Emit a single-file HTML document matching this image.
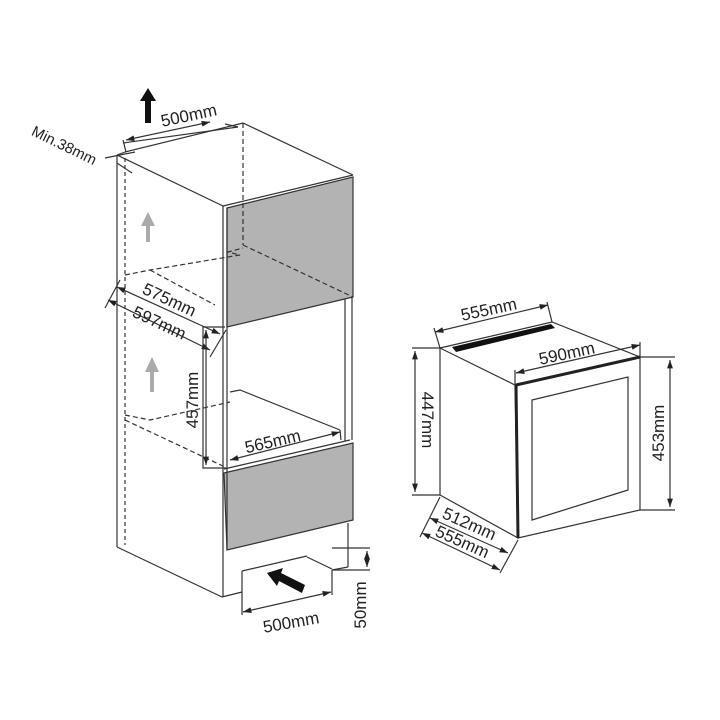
<!DOCTYPE html>
<html><head><meta charset="utf-8"><style>
html,body{margin:0;padding:0;background:#fff}
svg{display:block}
text{font-family:"Liberation Sans",Arial,sans-serif;fill:#222}
</style></head><body>
<svg width="720" height="720" viewBox="0 0 720 720" xmlns="http://www.w3.org/2000/svg">
<defs>
<marker id="a" viewBox="0 0 10 10" refX="10" refY="5" markerWidth="7" markerHeight="7" orient="auto-start-reverse"><path d="M0,1.5 L10,5 L0,8.5 z" fill="#222"/></marker>
</defs>
<g stroke="#333" stroke-width="1.2" fill="none">
<polygon points="227,208 353,177 353,297 227,327" fill="#b3b3b3"/>
<line x1="223" y1="206" x2="353" y2="175"/>
<polygon points="224,473 353,443 353,520 227,550" fill="#b3b3b3"/>
<line x1="224" y1="469" x2="350" y2="440"/>
<polyline points="117,155 223,206"/>
<polyline points="125,152 243,123 353,175"/>
<line x1="117" y1="155" x2="125" y2="152"/>
<line x1="117" y1="155" x2="117" y2="547"/>
<line x1="125" y1="158" x2="125" y2="545" stroke-dasharray="4,3"/>
<line x1="117" y1="547" x2="222" y2="597"/>
<line x1="223" y1="206" x2="223" y2="597"/>
<line x1="227" y1="208" x2="227" y2="550"/>
<line x1="345" y1="299" x2="345" y2="441"/>
<line x1="352" y1="297" x2="352" y2="440"/>
<line x1="222" y1="597" x2="242" y2="592"/>
<line x1="348" y1="523" x2="348" y2="567"/>
<line x1="348" y1="567" x2="332" y2="570"/>
<line x1="307" y1="557" x2="332" y2="569"/>
<line x1="242" y1="571" x2="307" y2="556"/>
<g stroke-dasharray="5,3">
<line x1="243" y1="123" x2="243" y2="245"/>
<line x1="243" y1="245" x2="353" y2="297"/>
<polyline points="125,275 150,270 240,255 228,252 243,248"/>
<line x1="150" y1="270" x2="215" y2="305"/>
<polyline points="125,415 150,420 230,402"/>
<line x1="125" y1="420" x2="225" y2="467"/>
</g>
<polyline points="230,392 240,390 340,430"/>
<polyline points="123,143 238,127"/>
<line x1="126" y1="152" x2="123" y2="140"/>
<line x1="238" y1="127" x2="225" y2="124"/>
<line x1="126" y1="140" x2="210" y2="122" marker-start="url(#a)" marker-end="url(#a)"/>
<line x1="105" y1="158" x2="135" y2="152"/>
<line x1="117" y1="163" x2="132" y2="173"/>
<line x1="117" y1="287" x2="220" y2="334" marker-start="url(#a)" marker-end="url(#a)"/>
<line x1="108" y1="300" x2="210" y2="350" marker-start="url(#a)" marker-end="url(#a)"/>
<line x1="120" y1="280" x2="105" y2="308"/>
<line x1="226" y1="330" x2="210" y2="357"/>
<polyline points="225,327 203,327 203,468 226,468"/>
<line x1="206" y1="330" x2="206" y2="465" marker-start="url(#a)" marker-end="url(#a)"/>
<line x1="230" y1="460" x2="340" y2="432" marker-start="url(#a)" marker-end="url(#a)"/>
<line x1="340" y1="430" x2="341" y2="440"/>
<line x1="242" y1="571" x2="242" y2="615"/>
<line x1="332" y1="570" x2="332" y2="595"/>
<line x1="243" y1="612" x2="331" y2="592" marker-start="url(#a)" marker-end="url(#a)"/>
<polyline points="332,548 370,548"/>
<line x1="332" y1="570" x2="370" y2="570"/>
<line x1="367" y1="551" x2="367" y2="567" marker-start="url(#a)" marker-end="url(#a)"/>
</g>
<path d="M145,123 V101 H140 L148,88 L156,101 H151 V123 Z" fill="#111"/>
<path d="M146,242 V226 H141 L148,212 L155,226 H150 V242 Z" fill="#aaa"/>
<path d="M150,392 V372 H145 L152,357 L159,372 H154 V392 Z" fill="#aaa"/>
<path d="M305,585 L281,573 L283,568 L267,573 L277,586 L279,581 L302,593 Z" fill="#111"/>
<text x="190" y="121" font-size="17" transform="rotate(-12 190 121)" text-anchor="middle">500mm</text>
<text x="62" y="150" font-size="15" transform="rotate(26 62 150)" text-anchor="middle">Min.38mm</text>
<text x="167" y="305" font-size="17" transform="rotate(25 167 305)" text-anchor="middle">575mm</text>
<text x="157" y="328" font-size="17" transform="rotate(25 157 328)" text-anchor="middle">597mm</text>
<text x="198" y="400" font-size="17" transform="rotate(-90 198 400)" text-anchor="middle">457mm</text>
<text x="274" y="447" font-size="17" transform="rotate(-13 274 447)" text-anchor="middle">565mm</text>
<text x="292" y="628" font-size="17" transform="rotate(-10 292 628)" text-anchor="middle">500mm</text>
<text x="366" y="605" font-size="17" transform="rotate(-90 366 605)" text-anchor="middle">50mm</text>
<g stroke="#333" stroke-width="1.2" fill="none">
<polygon points="440,348 552,322 640,357 515,385"/>
<line x1="440" y1="348" x2="440" y2="495"/>
<line x1="440" y1="495" x2="518" y2="538"/>
<polygon points="515,385 640,357 640,510 518,538"/>
<polygon points="532,400 628,377 628,490 532,520"/>
<line x1="440" y1="348" x2="412" y2="348"/>
<line x1="440" y1="495" x2="412" y2="495"/>
<line x1="415" y1="351" x2="415" y2="492" marker-start="url(#a)" marker-end="url(#a)"/>
<line x1="640" y1="357" x2="675" y2="357"/>
<line x1="640" y1="510" x2="675" y2="510"/>
<line x1="670" y1="360" x2="670" y2="507" marker-start="url(#a)" marker-end="url(#a)"/>
<line x1="435" y1="332" x2="548" y2="305" marker-start="url(#a)" marker-end="url(#a)"/>
<line x1="440" y1="348" x2="434" y2="328"/>
<line x1="552" y1="322" x2="547" y2="302"/>
<line x1="516" y1="373" x2="640" y2="345" marker-start="url(#a)" marker-end="url(#a)"/>
<line x1="515" y1="385" x2="515" y2="370"/>
<line x1="640" y1="357" x2="640" y2="342"/>
<line x1="430" y1="518" x2="508" y2="553" marker-start="url(#a)" marker-end="url(#a)"/>
<line x1="422" y1="533" x2="500" y2="570" marker-start="url(#a)" marker-end="url(#a)"/>
<line x1="440" y1="497" x2="420" y2="537"/>
<line x1="518" y1="540" x2="500" y2="573"/>
</g>
<line x1="516" y1="385" x2="640" y2="357" stroke="#222" stroke-width="3"/>
<line x1="516" y1="385" x2="518" y2="538" stroke="#222" stroke-width="3"/>
<polygon points="452,347 551,324 555,328 456,352" fill="#111"/>
<text x="490" y="315" font-size="17" transform="rotate(-12 490 315)" text-anchor="middle">555mm</text>
<text x="568" y="359" font-size="17" transform="rotate(-12 568 359)" text-anchor="middle">590mm</text>
<text x="422" y="420" font-size="17" transform="rotate(90 422 420)" text-anchor="middle">447mm</text>
<text x="664" y="433" font-size="17" transform="rotate(-90 664 433)" text-anchor="middle">453mm</text>
<text x="467" y="529" font-size="17" transform="rotate(24 467 529)" text-anchor="middle">512mm</text>
<text x="460" y="547" font-size="17" transform="rotate(24 460 547)" text-anchor="middle">555mm</text>
</svg>
</body></html>
